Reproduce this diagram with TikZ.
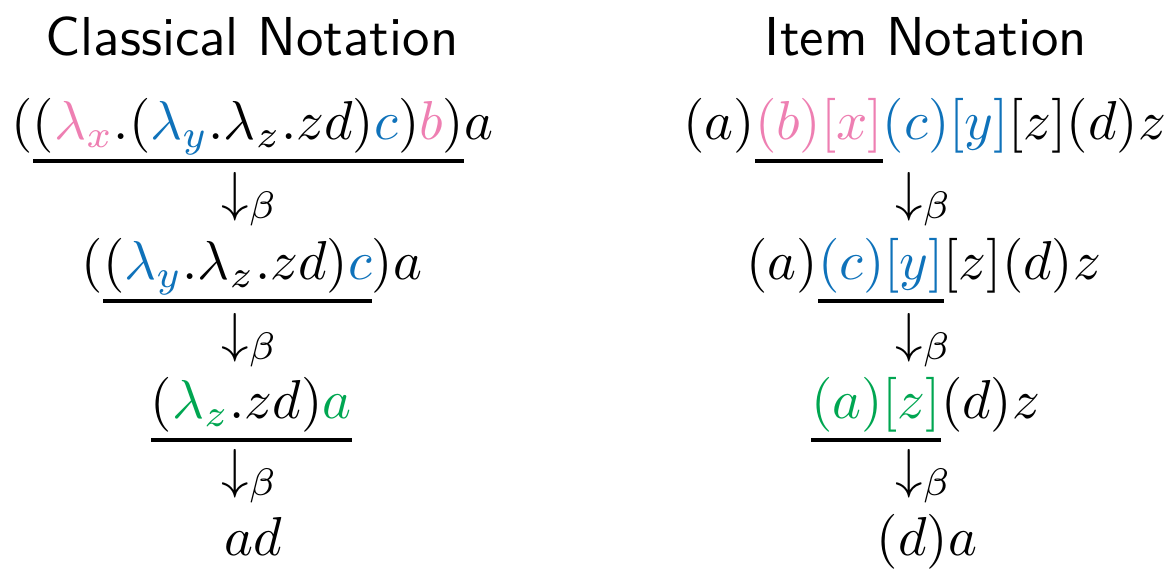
\documentclass[tikz,border=0pt]{standalone}
\usepackage{amsmath,amssymb}
\usepackage{tikz}
\usetikzlibrary{positioning}
\usepackage{xcolor}

\definecolor{redexpink}{HTML}{EE7FB2}
\definecolor{redexblue}{HTML}{0F72BA}
\definecolor{redexgreen}{HTML}{00A651}

\begin{document}
\begin{tikzpicture}[
    x=0.641cm, y=0.641cm,
    term/.style={inner sep=0pt, outer sep=0pt, font=\normalsize},
    heading/.style={inner sep=0pt, anchor=base, font=\sffamily\normalsize},
    redexline/.style={line width=0.58pt}
]
    \useasboundingbox (0,0) rectangle (11.74,-5.69);

    % Headings
    \node[heading] (lhead) at (2.52,-0.55) {Classical Notation};
    \node[heading] (rhead) at (9.26,-0.55) {Item Notation};

    % Classical notation
    \node[term, anchor=base west] (cl1) at (0.33,-1.39) {$(\textcolor{redexpink}{\lambda_x}.(\textcolor{redexblue}{\lambda_y}.\lambda_z.zd)\textcolor{redexblue}{c})\textcolor{redexpink}{b})$};
    \node[term, base left=0pt of cl1] (cl1pre) {$($};
    \node[term, base right=0pt of cl1] (cl1post) {$a$};
    \node[term, anchor=base] (clstep1) at (2.50,-2.10) {$\downarrow_\beta$};

    \node[term, anchor=base west] (cl2) at (1.03,-2.79) {$(\textcolor{redexblue}{\lambda_y}.\lambda_z.zd)\textcolor{redexblue}{c}$};
    \node[term, base left=0pt of cl2] (cl2pre) {$($};
    \node[term, base right=0pt of cl2] (cl2post) {$)a$};
    \node[term, anchor=base] (clstep2) at (2.50,-3.51) {$\downarrow_\beta$};

    \node[term, anchor=base west] (cl3) at (1.51,-4.18) {$(\textcolor{redexgreen}{\lambda_z}.zd)\textcolor{redexgreen}{a}$};
    \node[term, anchor=base] (clstep3) at (2.50,-4.87) {$\downarrow_\beta$};

    \node[term, anchor=base] (cl4) at (2.53,-5.55) {$ad$};

    % Item notation
    \node[term, anchor=base west] (it1) at (7.55,-1.39) {$\textcolor{redexpink}{(b)[x]}$};
    \node[term, base left=0pt of it1] (it1pre) {$(a)$};
    \node[term, base right=0pt of it1] (it1post) {$\textcolor{redexblue}{(c)[y]}[z](d)z$};
    \node[term, anchor=base] (itstep1) at (9.24,-2.10) {$\downarrow_\beta$};

    \node[term, anchor=base west] (it2) at (8.18,-2.79) {$\textcolor{redexblue}{(c)[y]}$};
    \node[term, base left=0pt of it2] (it2pre) {$(a)$};
    \node[term, base right=0pt of it2] (it2post) {$[z](d)z$};
    \node[term, anchor=base] (itstep2) at (9.24,-3.51) {$\downarrow_\beta$};

    \node[term, anchor=base west] (it3) at (8.11,-4.18) {$\textcolor{redexgreen}{(a)[z]}$};
    \node[term, base right=0pt of it3] (it3post) {$(d)z$};
    \node[term, anchor=base] (itstep3) at (9.24,-4.87) {$\downarrow_\beta$};

    \node[term, anchor=base] (it4) at (9.27,-5.55) {$(d)a$};

    % Redex underlines
    \foreach \redex in {cl1,cl2,cl3,it1,it2,it3}
        \draw[redexline] ([yshift=-0.141cm]\redex.base west) -- ([yshift=-0.141cm]\redex.base east);
\end{tikzpicture}
\end{document}
